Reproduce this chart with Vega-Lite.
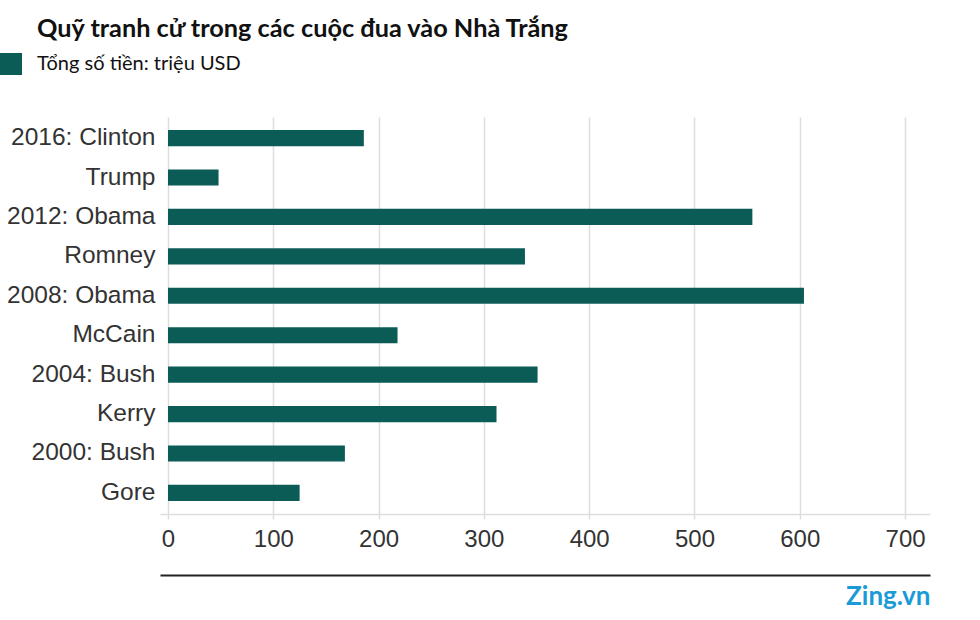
{
  "$schema": "https://vega.github.io/schema/vega-lite/v6.json",
  "autosize": {"type": "none"},
  "padding": {"left": 160, "top": 117, "right": 50, "bottom": 106},
  "width": 770,
  "height": 397,
  "background": "white",
  "title": {
    "text": "Quỹ tranh cử trong các cuộc đua vào Nhà Trắng",
    "anchor": "start",
    "frame": "group",
    "dx": -123,
    "offset": 11,
    "font": "Lato",
    "fontSize": 25.3,
    "fontWeight": "bold",
    "color": "#111"
  },
  "data": {
    "values": [
      {"candidate": "2016: Clinton", "value": 186, "series": "Tổng số tiền: triệu USD"},
      {"candidate": "Trump", "value": 48, "series": "Tổng số tiền: triệu USD"},
      {"candidate": "2012: Obama", "value": 555, "series": "Tổng số tiền: triệu USD"},
      {"candidate": "Romney", "value": 339, "series": "Tổng số tiền: triệu USD"},
      {"candidate": "2008: Obama", "value": 604, "series": "Tổng số tiền: triệu USD"},
      {"candidate": "McCain", "value": 218, "series": "Tổng số tiền: triệu USD"},
      {"candidate": "2004: Bush", "value": 351, "series": "Tổng số tiền: triệu USD"},
      {"candidate": "Kerry", "value": 312, "series": "Tổng số tiền: triệu USD"},
      {"candidate": "2000: Bush", "value": 168, "series": "Tổng số tiền: triệu USD"},
      {"candidate": "Gore", "value": 125, "series": "Tổng số tiền: triệu USD"}
    ]
  },
  "layer": [
    {
      "mark": {"type": "bar"},
      "encoding": {
        "y": {
          "field": "candidate",
          "type": "nominal",
          "sort": null,
          "scale": {"paddingInner": 0.59, "paddingOuter": 0.33},
          "axis": {
            "title": null,
            "domain": false,
            "ticks": false,
            "grid": false,
            "labelFont": "Liberation Sans",
            "labelFontSize": 24.5,
            "labelColor": "#333",
            "labelPadding": 5
          }
        },
        "x": {
          "field": "value",
          "type": "quantitative",
          "scale": {"domain": [-7.6, 723.7], "nice": false, "zero": false},
          "axis": {
            "title": null,
            "values": [0, 100, 200, 300, 400, 500, 600, 700],
            "grid": true,
            "gridColor": "#dddddd",
            "gridWidth": 1.5,
            "domain": true,
            "domainColor": "#dddddd",
            "domainWidth": 1.5,
            "ticks": true,
            "tickColor": "#dddddd",
            "tickWidth": 1.5,
            "tickSize": 5,
            "labelFont": "Liberation Sans",
            "labelFontSize": 24,
            "labelColor": "#333",
            "labelPadding": 8,
            "labelFlush": false
          }
        },
        "color": {
          "field": "series",
          "type": "nominal",
          "scale": {"range": ["#0b5b56"]},
          "legend": {
            "title": null,
            "orient": "none",
            "legendX": -160,
            "legendY": -64,
            "padding": 0,
            "symbolType": "square",
            "symbolSize": 484,
            "symbolStrokeWidth": 0,
            "symbolOffset": 0,
            "labelFont": "Lato",
            "labelFontSize": 20,
            "labelColor": "#111",
            "labelOffset": 15,
            "labelLimit": 400
          }
        }
      }
    },
    {
      "mark": {"type": "point", "opacity": 0},
      "encoding": {
        "x": {
          "field": "value",
          "type": "quantitative",
          "scale": {"domain": [-7.6, 723.7], "nice": false, "zero": false},
          "axis": {
            "orient": "bottom",
            "offset": 61,
            "grid": false,
            "labels": false,
            "ticks": false,
            "domain": true,
            "domainColor": "#222222",
            "domainWidth": 2,
            "title": "Zing.vn",
            "titleAnchor": "end",
            "titleAlign": "right",
            "titleFont": "Lato",
            "titleFontSize": 26,
            "titleFontWeight": "bold",
            "titleColor": "#1a9bd7",
            "titlePadding": 8
          }
        }
      }
    }
  ],
  "resolve": {"axis": {"x": "independent"}},
  "config": {"view": {"stroke": null}}
}
